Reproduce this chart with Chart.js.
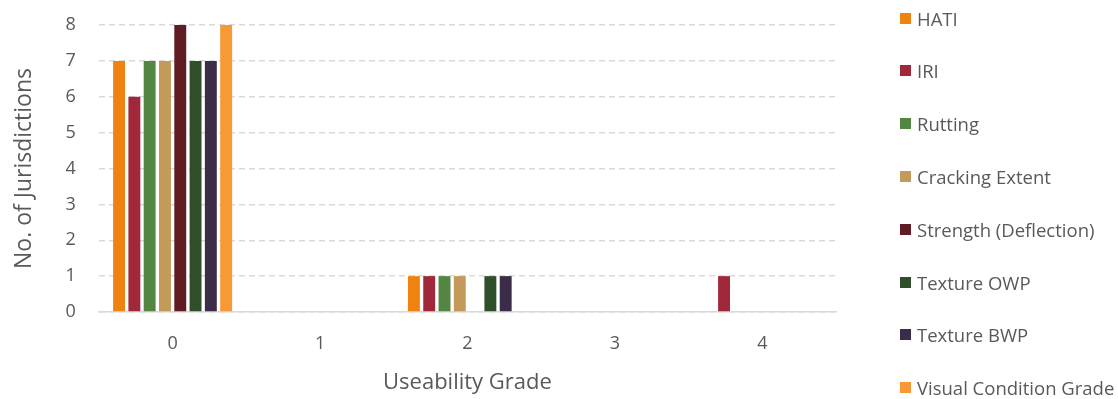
<!DOCTYPE html>
<html>
<head>
<meta charset="utf-8">
<script src="https://cdn.jsdelivr.net/npm/chart.js@4/dist/chart.umd.min.js"></script>
<style>
  html, body { margin: 0; padding: 0; background: #fff; }
  #wrap { position: relative; width: 1118px; height: 399px; }
  #legend { position: absolute; left: 900px; top: 0; margin: 0; padding: 0; list-style: none;
            font-family: "Open Sans", sans-serif; font-size: 18.5px; color: #595959; }
  #legend li { position: absolute; left: 0; white-space: nowrap; display: flex; align-items: center; height: 20px; }
  #legend span.box { display: inline-block; width: 11px; height: 11px; margin-right: 6px; }
</style>
</head>
<body>
<div id="wrap">
  <canvas id="chart" width="1118" height="399"></canvas>
  <ul id="legend"></ul>
</div>
<script>
var grades = ['0', '1', '2', '3', '4'];

var hati     = [7, 0, 1, 0, 0];
var iri      = [6, 0, 1, 0, 1];
var rutting  = [7, 0, 1, 0, 0];
var cracking = [7, 0, 1, 0, 0];
var strength = [8, 0, 0, 0, 0];
var owp      = [7, 0, 1, 0, 0];
var bwp      = [7, 0, 1, 0, 0];
var visual   = [8, 0, 0, 0, 0];

var names  = ['HATI', 'IRI', 'Rutting', 'Cracking Extent', 'Strength (Deflection)', 'Texture OWP', 'Texture BWP', 'Visual Condition Grade'];
var series = [hati, iri, rutting, cracking, strength, owp, bwp, visual];
var colors = ['#f0820f', '#a0283a', '#538642', '#c49a5a', '#611b22', '#2f4f2a', '#3b2d4a', '#f79a36'];

var textColor = '#595959';
var gridColor = '#d9d9d9';
var font = '"Open Sans", sans-serif';

var datasets = [];
for (var i = 0; i < series.length; i++) {
    datasets.push({
        label: names[i],
        data: series[i],
        backgroundColor: colors[i],
        categoryPercentage: 0.83,
        barPercentage: 0.78
    });
}

// legend drawn as a list beside the canvas, one item every 53px
var htmlLegend = {
    id: 'htmlLegend',
    afterUpdate: function(chart) {
        var ul = document.getElementById('legend');
        ul.innerHTML = '';
        var items = chart.options.plugins.legend.labels.generateLabels(chart);
        items.forEach(function(item, idx) {
            var li = document.createElement('li');
            li.style.top = (8 + idx * 52.8) + 'px';
            var box = document.createElement('span');
            box.className = 'box';
            box.style.background = item.fillStyle;
            li.appendChild(box);
            li.appendChild(document.createTextNode(item.text));
            ul.appendChild(li);
        });
    }
};

new Chart(document.getElementById('chart').getContext('2d'), {
    type: 'bar',
    data: { labels: grades, datasets: datasets },
    plugins: [htmlLegend],
    options: {
        responsive: false,
        animation: false,
        layout: { padding: { left: 11, right: 282, top: 25, bottom: 3 } },
        plugins: {
            legend: { display: false },
            tooltip: { enabled: false }
        },
        scales: {
            x: {
                grid: { display: false, drawTicks: false },
                border: { display: true, color: gridColor, width: 1.5 },
                ticks: { color: textColor, font: { family: font, size: 18 }, padding: 21 },
                title: { display: true, text: 'Useability Grade', color: textColor,
                         font: { family: font, size: 22 }, padding: { top: -6, bottom: 0 } }
            },
            y: {
                min: 0, max: 8,
                // no extra room for the end labels, the layout padding covers it
                afterFit: function(scale) { scale.paddingTop = 0; scale.paddingBottom = 0; },
                grid: { color: gridColor, lineWidth: 1.5, drawTicks: false },
                border: { display: false, dash: [6, 4] },
                ticks: { stepSize: 1, color: textColor, font: { family: font, size: 18 }, padding: 23 },
                title: { display: true, text: 'No. of Jurisdictions', color: textColor,
                         font: { family: font, size: 23 }, padding: { top: 0, bottom: 4 } }
            }
        }
    }
});
</script>
</body>
</html>
